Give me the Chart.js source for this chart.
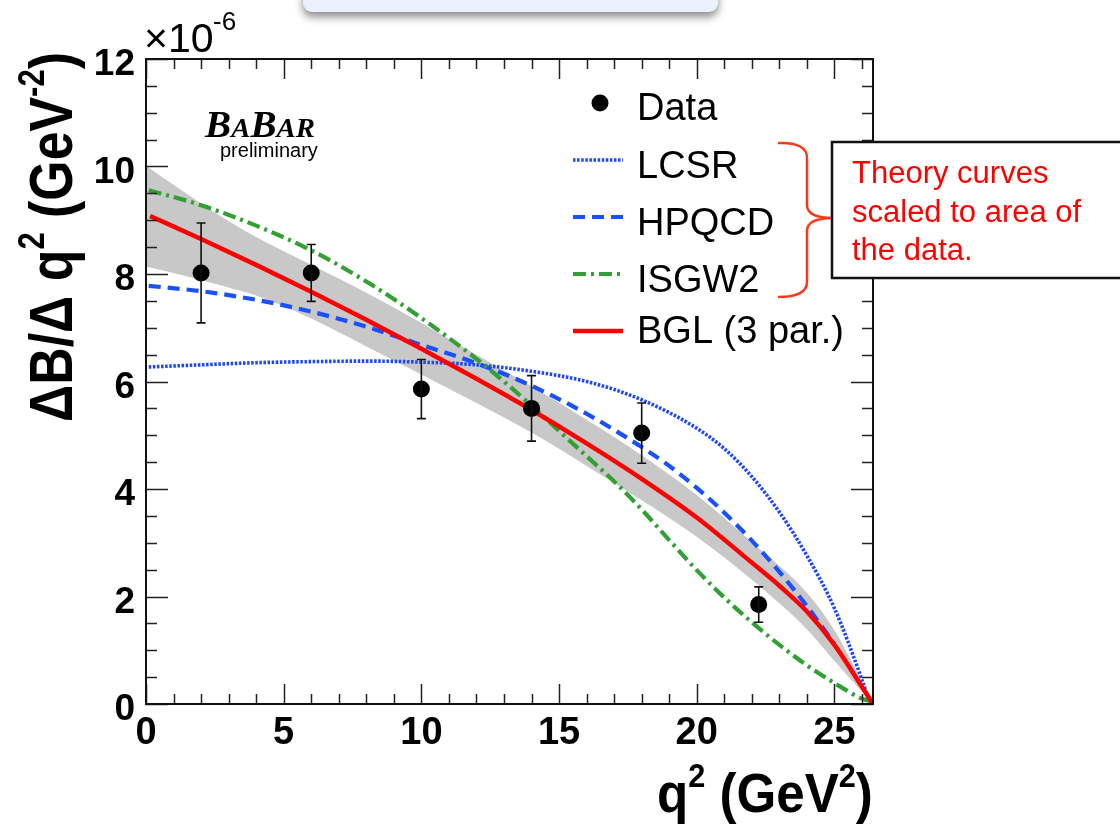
<!DOCTYPE html>
<html>
<head>
<meta charset="utf-8">
<script src="https://cdn.jsdelivr.net/npm/chart.js@4.4.1/dist/chart.umd.min.js"></script>
<style>
  html, body { margin: 0; padding: 0; background: #fff; }
  #wrap { width: 1120px; height: 825px; position: relative; }
</style>
</head>
<body>
<div id="wrap"><canvas id="chart"></canvas></div>
<script>
// measured points: q^2 (GeV^2) vs dB/dq^2 (x10^-6 GeV^-2)
const dataQ2 = [2, 6, 10, 14, 18, 22.25];
const dataVal = [8.02, 8.02, 5.86, 5.50, 5.04, 1.85];
const dataErr = [0.93, 0.53, 0.55, 0.61, 0.56, 0.33];

// BGL (3 par.) fit and its uncertainty band
const bglQ2 = [0.15, 2, 4, 6, 8, 10, 12, 14, 16, 18, 20, 22, 23, 24, 25, 26, 26.4];
const bglVal = [9.08, 8.65, 8.17, 7.67, 7.15, 6.61, 6.05, 5.47, 4.85, 4.19, 3.47, 2.63, 2.2, 1.72, 1.1, 0.32, 0.0];
const bandQ2 = [0, 1, 2, 3, 4, 6, 8, 10, 12, 14, 16, 18, 20, 22, 24, 25, 26.4];
const bandHi = [10.01, 9.66, 9.31, 8.98, 8.69, 8.17, 7.65, 7.09, 6.5, 5.91, 5.29, 4.63, 3.89, 3.01, 2.07, 1.37, 0.0];
const bandLo = [8.14, 8.02, 7.89, 7.75, 7.6, 7.17, 6.65, 6.13, 5.6, 5.05, 4.43, 3.79, 3.11, 2.31, 1.39, 0.8, 0.0];

// theory curves
const lcsrQ2 = [0.1, 2, 4, 6, 8, 10, 12, 14, 16, 18, 20, 21, 22, 23, 24, 25, 26, 26.3];
const lcsrVal = [6.27, 6.31, 6.35, 6.37, 6.38, 6.36, 6.31, 6.19, 6.0, 5.66, 5.13, 4.75, 4.23, 3.57, 2.76, 1.78, 0.45, 0.0];
const hpqcdQ2 = [0.1, 2, 4, 6, 8, 10, 12, 14, 16, 18, 19, 20, 21, 22, 23, 24, 25];
const hpqcdVal = [7.78, 7.68, 7.52, 7.3, 7.02, 6.68, 6.34, 5.92, 5.4, 4.78, 4.43, 4.02, 3.56, 3.04, 2.46, 1.82, 1.12];
const isgwQ2 = [0.1, 2, 4, 6, 8, 10, 12, 13, 14, 15, 16, 17, 18, 19, 20, 21, 22, 23, 24, 25, 26, 26.4];
const isgwVal = [9.56, 9.28, 8.9, 8.44, 7.86, 7.18, 6.42, 6.0, 5.55, 5.08, 4.61, 4.14, 3.62, 3.05, 2.49, 1.98, 1.52, 1.1, 0.72, 0.39, 0.1, 0.04];

// axis ticks
const xTicks = [0, 5, 10, 15, 20, 25];
const yTicks = [0, 2, 4, 6, 8, 10, 12];

const SANS = '"Liberation Sans", Arial, Helvetica, sans-serif';
const SERIF = '"Liberation Serif", "Times New Roman", serif';

const pts = (xs, ys) => xs.map((x, i) => ({ x: x, y: ys[i] }));

function curve(label, xs, ys, color, width, dash, order) {
  return {
    label: label,
    data: pts(xs, ys),
    borderColor: color,
    borderWidth: width,
    borderDash: dash,
    pointRadius: 0,
    fill: false,
    cubicInterpolationMode: 'monotone',
    order: order
  };
}

const lcsr = curve('LCSR', lcsrQ2, lcsrVal, 'rgb(30,70,255)', 3.6, [2.5, 1.6], 4);
const hpqcd = curve('HPQCD', hpqcdQ2, hpqcdVal, 'rgb(25,80,255)', 4.2, [12, 7], 3);
const isgw = curve('ISGW2', isgwQ2, isgwVal, 'rgb(50,160,50)', 4.2, [13, 5, 3, 5], 2);
const bgl = curve('BGL (3 par.)', bglQ2, bglVal, 'rgb(255,0,0)', 4.5, [], 1);

// draw a string made of normal / superscript pieces, returns its width
function drawRuns(ctx, parts, x, y, size, weight, dry) {
  let cx = x;
  parts.forEach(([txt, sup]) => {
    const s = sup ? size * 0.6 : size;
    ctx.font = weight + ' ' + s + 'px ' + SANS;
    if (!dry) ctx.fillText(txt, cx, sup ? y - size * 0.45 : y);
    cx += ctx.measureText(txt).width;
  });
  return cx - x;
}

const decor = {
  id: 'decor',
  beforeDraw(chart) {
    const ctx = chart.ctx;
    // bit of the slide box cut off at the top
    ctx.save();
    ctx.shadowColor = 'rgba(0,0,0,0.45)';
    ctx.shadowBlur = 8;
    ctx.shadowOffsetY = 5;
    ctx.fillStyle = '#eaf1fb';
    ctx.beginPath();
    ctx.roundRect(303, -30, 415, 42, 9);
    ctx.fill();
    ctx.restore();
  },
  afterDatasetsDraw(chart) {
    const { ctx, scales: { x, y } } = chart;
    // error bars
    ctx.save();
    ctx.strokeStyle = '#111';
    ctx.lineWidth = 1.6;
    dataQ2.forEach((q, i) => {
      const px = x.getPixelForValue(q);
      const top = y.getPixelForValue(dataVal[i] + dataErr[i]);
      const bot = y.getPixelForValue(dataVal[i] - dataErr[i]);
      ctx.beginPath();
      ctx.moveTo(px, top); ctx.lineTo(px, bot);
      ctx.moveTo(px - 4.5, top); ctx.lineTo(px + 4.5, top);
      ctx.moveTo(px - 4.5, bot); ctx.lineTo(px + 4.5, bot);
      ctx.stroke();
    });
    ctx.restore();
  },
  afterDraw(chart) {
    const { ctx, chartArea: a, scales: { x, y } } = chart;
    ctx.save();

    // frame and inward ticks on all sides
    ctx.strokeStyle = '#222';
    ctx.lineWidth = 1.5;
    ctx.beginPath();
    for (let v = 0; v <= 26; v++) {
      const px = Math.round(x.getPixelForValue(v)) + 0.5;
      const len = v % 5 === 0 ? 20 : 10;
      ctx.moveTo(px, a.bottom); ctx.lineTo(px, a.bottom - len);
      ctx.moveTo(px, a.top); ctx.lineTo(px, a.top + len);
    }
    for (let v = 0; v <= 12; v += 0.5) {
      const py = Math.round(y.getPixelForValue(v)) + 0.5;
      const len = v % 2 === 0 ? 22 : 11;
      ctx.moveTo(a.left, py); ctx.lineTo(a.left + len, py);
      ctx.moveTo(a.right, py); ctx.lineTo(a.right - len, py);
    }
    ctx.stroke();
    ctx.lineWidth = 2;
    ctx.strokeStyle = '#111';
    ctx.strokeRect(a.left, a.top, a.right - a.left, a.bottom - a.top);

    // exponent label
    ctx.fillStyle = '#000';
    ctx.textBaseline = 'alphabetic';
    ctx.textAlign = 'left';
    ctx.font = '41px ' + SANS;
    ctx.fillText('\u00d710', 144, 52);
    ctx.font = '26px ' + SANS;
    ctx.fillText('-6', 213, 30);

    // x title
    const xParts = [['q', false], ['2', true], [' (GeV', false], ['2', true], [')', false]];
    let w = drawRuns(ctx, xParts, 0, 0, 50, 'bold', true);
    let fs = 50 * 216 / w;
    ctx.save();
    ctx.translate(0, 812);
    ctx.scale(1, 1.1);
    drawRuns(ctx, xParts, a.right - 216, 0, fs, 'bold', false);
    ctx.restore();

    // y title (rotated, squeezed along its length)
    const yParts = [['\u0394B/\u0394 q', false], ['2', true], [' (GeV', false], ['-2', true], [')', false]];
    w = drawRuns(ctx, yParts, 0, 0, 62, 'bold', true);
    ctx.save();
    ctx.translate(72, 422);
    ctx.rotate(-Math.PI / 2);
    ctx.scale(370 / w, 1);
    drawRuns(ctx, yParts, 0, 0, 62, 'bold', false);
    ctx.restore();

    // BaBar logo
    const logo = [['B', 38], ['A', 28], ['B', 38], ['AR', 28]];
    let lw = 0;
    logo.forEach(([t, s]) => {
      ctx.font = 'italic bold ' + s + 'px ' + SERIF;
      lw += ctx.measureText(t).width;
    });
    ctx.save();
    ctx.translate(205, 137);
    ctx.scale(110 / lw, 1);
    let bx = 0;
    logo.forEach(([t, s]) => {
      ctx.font = 'italic bold ' + s + 'px ' + SERIF;
      ctx.fillText(t, bx, 0);
      bx += ctx.measureText(t).width;
    });
    ctx.restore();
    ctx.font = '20px ' + SANS;
    ctx.fillText('preliminary', 220, 157);

    // legend
    const rows = [
      { ds: null, label: 'Data', ly: 103, ty: 120 },
      { ds: lcsr, label: 'LCSR', ly: 160, ty: 178 },
      { ds: hpqcd, label: 'HPQCD', ly: 217, ty: 235 },
      { ds: isgw, label: 'ISGW2', ly: 274, ty: 292 },
      { ds: bgl, label: 'BGL (3 par.)', ly: 331, ty: 343 }
    ];
    rows.forEach(r => {
      if (r.ds) {
        ctx.save();
        ctx.strokeStyle = r.ds.borderColor;
        ctx.lineWidth = r.ds.borderWidth;
        ctx.setLineDash(r.ds.borderDash);
        ctx.beginPath();
        ctx.moveTo(573, r.ly); ctx.lineTo(623, r.ly);
        ctx.stroke();
        ctx.restore();
      } else {
        ctx.beginPath();
        ctx.arc(600, r.ly, 8.5, 0, Math.PI * 2);
        ctx.fill();
      }
      ctx.font = '38px ' + SANS;
      ctx.fillStyle = '#000';
      ctx.fillText(r.label, 637, r.ty);
    });

    // brace + note box
    ctx.strokeStyle = 'rgb(255,55,25)';
    ctx.lineWidth = 2.5;
    ctx.beginPath();
    ctx.moveTo(778, 143);
    ctx.quadraticCurveTo(807, 142, 807, 158);
    ctx.lineTo(807, 205);
    ctx.quadraticCurveTo(807, 218, 833, 218);
    ctx.quadraticCurveTo(807, 218, 807, 231);
    ctx.lineTo(807, 282);
    ctx.quadraticCurveTo(807, 297, 778, 297);
    ctx.stroke();

    ctx.fillStyle = '#fff';
    ctx.fillRect(832, 142, 300, 136);
    ctx.strokeStyle = '#111';
    ctx.lineWidth = 2.5;
    ctx.strokeRect(832, 142, 300, 136);
    ctx.fillStyle = 'rgb(255,0,0)';
    ctx.font = '31px ' + SANS;
    ctx.fillText('Theory curves', 852, 183);
    ctx.fillText('scaled to area of', 852, 222);
    ctx.fillText('the data.', 852, 260);

    ctx.restore();
  }
};

new Chart(document.getElementById('chart'), {
  type: 'line',
  data: {
    datasets: [
      {
        label: 'Data',
        data: pts(dataQ2, dataVal),
        showLine: false,
        pointRadius: 8.5,
        pointBackgroundColor: '#000',
        pointBorderWidth: 0,
        order: 0
      },
      bgl, isgw, hpqcd, lcsr,
      {
        label: 'band high',
        data: pts(bandQ2, bandHi),
        borderWidth: 0,
        pointRadius: 0,
        fill: '+1',
        backgroundColor: 'rgb(200,200,200)',
        cubicInterpolationMode: 'monotone',
        order: 6
      },
      {
        label: 'band low',
        data: pts(bandQ2, bandLo),
        borderWidth: 0,
        pointRadius: 0,
        fill: false,
        cubicInterpolationMode: 'monotone',
        order: 7
      }
    ]
  },
  options: {
    responsive: true,
    maintainAspectRatio: false,
    animation: false,
    layout: { padding: { left: 0, right: 247, top: 59, bottom: 0 } },
    plugins: { legend: { display: false }, tooltip: { enabled: false } },
    scales: {
      x: {
        type: 'linear',
        min: 0,
        max: 26.4,
        grid: { display: false, drawTicks: false },
        border: { display: false },
        afterBuildTicks: s => { s.ticks = xTicks.map(v => ({ value: v })); },
        afterFit: s => { s.height = 121; },
        ticks: {
          padding: 7, color: '#000', maxRotation: 0, autoSkip: false,
          font: { family: SANS, size: 38, weight: 'bold' }
        }
      },
      y: {
        min: 0,
        max: 12,
        grid: { display: false, drawTicks: false },
        border: { display: false },
        afterBuildTicks: s => { s.ticks = yTicks.map(v => ({ value: v })); },
        afterFit: s => { s.width = 146; },
        ticks: {
          padding: 11, labelOffset: 6, color: '#000',
          font: { family: SANS, size: 37, weight: 'bold' }
        }
      }
    }
  },
  plugins: [decor]
});
</script>
</body>
</html>
